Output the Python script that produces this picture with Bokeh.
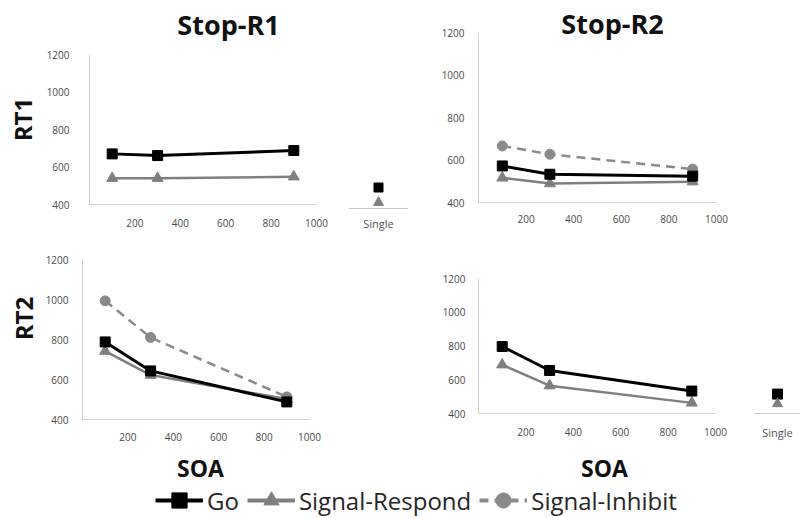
from bokeh.plotting import figure
from bokeh.models import (Range1d, FactorRange, FixedTicker, Label, Legend, LegendItem, Spacer)
from bokeh.layouts import row, column
from bokeh.embed import file_html
from bokeh.resources import INLINE
import math

# ---------------- data ----------------
soa = [100, 300, 900]
y_ticks = [400, 600, 800, 1000, 1200]
x_ticks = [200, 400, 600, 800, 1000]
single_cat = ["Single"]

# Stop-R1, RT1
r1_rt1_go = [670, 661, 688]
r1_rt1_sr = [540, 540, 548]
r1_rt1_single_go = [512]
r1_rt1_single_sr = [432]
# Stop-R2, RT1
r2_rt1_go = [572, 533, 524]
r2_rt1_sr = [516, 489, 498]
r2_rt1_si = [666, 627, 557]
# Stop-R1, RT2
r1_rt2_go = [788, 643, 488]
r1_rt2_sr = [742, 622, 502]
r1_rt2_si = [993, 810, 513]
# Stop-R2, RT2
r2_rt2_go = [797, 655, 533]
r2_rt2_sr = [689, 565, 463]
r2_rt2_single_go = [515]
r2_rt2_single_sr = [458]

FONT = "Open Sans"
GO_C = "#000000"
SR_C = "#7f7f7f"
SI_C = "#8a8a8a"
AXIS_C = "#d0d0d0"
TICK_C = "#4a4a4a"

# layout geometry (page pixels)
ROW1_TOP, ROW1_H = 0, 240
ROW2_TOP, ROW2_H = 240, 210
LEG_TOP, LEG_H = 450, 68


def yrange(row_top, px_1200, px_400):
    """frame top is the row top, frame bottom is the 400 line"""
    upp = 800.0 / (px_400 - px_1200)
    return Range1d(400, 1200 + (px_1200 - row_top) * upp)


def style(p):
    p.outline_line_color = None
    p.grid.visible = False
    p.background_fill_color = "white"
    p.border_fill_color = "white"


def panel(width, height, mbl, mbr, mbb, yr, ystand, xstand):
    p = figure(width=width, height=height, x_range=Range1d(0, 1000), y_range=yr,
               toolbar_location=None, output_backend="svg",
               min_border_left=mbl, min_border_right=mbr, min_border_top=0, min_border_bottom=mbb)
    style(p)
    for ax, ticks, st, bnd in ((p.xaxis[0], x_ticks, xstand, (0, 1000)),
                               (p.yaxis[0], y_ticks, ystand, (400, 1200))):
        ax.ticker = FixedTicker(ticks=ticks)
        ax.bounds = bnd
        ax.axis_line_color = AXIS_C
        ax.axis_line_width = 1
        ax.major_tick_line_color = None
        ax.minor_tick_line_color = None
        ax.major_tick_out = 0
        ax.major_tick_in = 0
        ax.major_label_standoff = st
        ax.major_label_text_font = FONT
        ax.major_label_text_font_size = "10px"
        ax.major_label_text_color = TICK_C
    return p


def single_panel(width, height, mbl, mbr, mbb, yr, xstand):
    p = figure(width=width, height=height, x_range=FactorRange(factors=single_cat),
               y_range=yr, toolbar_location=None, output_backend="svg",
               y_axis_location=None,
               min_border_left=mbl, min_border_right=mbr, min_border_top=0, min_border_bottom=mbb)
    style(p)
    ax = p.xaxis[0]
    ax.axis_line_color = "#c8c8c8"
    ax.major_tick_line_color = None
    ax.minor_tick_line_color = None
    ax.major_tick_out = 0
    ax.major_label_standoff = xstand
    ax.major_label_text_font = FONT
    ax.major_label_text_font_size = "11px"
    ax.major_label_text_color = "#555555"
    return p


def text_panel(width, height):
    p = figure(width=width, height=height, x_range=Range1d(0, 1), y_range=Range1d(0, 1),
               toolbar_location=None, output_backend="svg",
               x_axis_location=None, y_axis_location=None, min_border=0)
    style(p)
    return p


def add_series(p, x, y, kind, lw=None):
    if kind == "go":
        r1 = p.line(x, y, line_color=GO_C, line_width=lw or 3)
        r2 = p.scatter(x, y, marker="square", size=10, fill_color=GO_C, line_color=GO_C)
    elif kind == "sr":
        r1 = p.line(x, y, line_color=SR_C, line_width=lw or 2.5)
        r2 = p.scatter(x, y, marker="triangle", size=11, fill_color=SR_C, line_color=SR_C)
    else:
        r1 = p.line(x, y, line_color=SI_C, line_width=lw or 2.5, line_dash="9 6")
        r2 = p.scatter(x, y, marker="circle", size=10, fill_color=SI_C, line_color=SI_C)
    return [r1, r2]


def big_label(p, text, x, y, size, angle=0.0):
    p.add_layout(Label(x=x, y=y, x_units="screen", y_units="screen", text=text,
                       text_font=FONT, text_font_style="bold", text_font_size=size,
                       text_color="#111111", text_align="center", text_baseline="middle",
                       angle=angle))


def wrap(f):
    return column(f)


# ---------------- top row ----------------
T1 = text_panel(40, ROW1_H)
big_label(T1, "RT1", 22, ROW1_TOP + ROW1_H - 119, "24px", angle=math.pi / 2)

A = panel(300, ROW1_H, 49, 24, ROW1_H - 204, yrange(ROW1_TOP, 54, 204), 20, 14)
add_series(A, soa, r1_rt1_sr, "sr")
add_series(A, soa, r1_rt1_go, "go")
big_label(A, "Stop-R1", 228 - 89, 204 - 24, "27px")

As = single_panel(68, ROW1_H, 8, 0, ROW1_H - 208, yrange(ROW1_TOP, 208 - 150, 208), 7)
As.scatter(single_cat, r1_rt1_single_go, marker="square", size=9, fill_color=GO_C, line_color=GO_C)
As.scatter(single_cat, r1_rt1_single_sr, marker="triangle", size=10, fill_color=SR_C, line_color=SR_C)

B = panel(392, ROW1_H, 70, 84, ROW1_H - 202, yrange(ROW1_TOP, 32, 202), 14, 12)
add_series(B, soa, r2_rt1_si, "si")
add_series(B, soa, r2_rt1_sr, "sr")
add_series(B, soa, r2_rt1_go, "go")
big_label(B, "Stop-R2", 612 - 478, 202 - 23, "27px")

# ---------------- bottom row ----------------
T2 = text_panel(40, ROW2_H)
big_label(T2, "RT2", 23, ROW2_TOP + ROW2_H - 318, "24px", angle=math.pi / 2)

C = panel(300, ROW2_H, 42, 31, ROW2_TOP + ROW2_H - 419, yrange(ROW2_TOP, 259, 419), 14, 13)
add_series(C, soa, r1_rt2_si, "si")
add_series(C, soa, r1_rt2_sr, "sr")
add_series(C, soa, r1_rt2_go, "go")

sp = Spacer(width=68, height=ROW2_H)

D = panel(346, ROW2_H, 70, 39, ROW2_TOP + ROW2_H - 413, yrange(ROW2_TOP, 278, 413), 13, 14)
add_series(D, soa, r2_rt2_sr, "sr")
add_series(D, soa, r2_rt2_go, "go")

Ds = single_panel(46, ROW2_H, 0, 0, ROW2_TOP + ROW2_H - 413, yrange(ROW2_TOP, 278, 413), 11)
Ds.scatter(single_cat, r2_rt2_single_go, marker="square", size=10, fill_color=GO_C, line_color=GO_C)
Ds.scatter(single_cat, r2_rt2_single_sr, marker="triangle", size=10, fill_color=SR_C, line_color=SR_C)

# ---------------- SOA labels + legend ----------------
L = text_panel(800, LEG_H)
LB = LEG_TOP + LEG_H
big_label(L, "SOA", 200, LB - 467, "23px")
big_label(L, "SOA", 604, LB - 467, "23px")

# legend proxies: the Stop-R2 RT1 series, drawn outside the visible (0..1) range
go_r = add_series(L, soa, r2_rt1_go, "go", lw=4)
sr_r = add_series(L, soa, r2_rt1_sr, "sr", lw=4)
si_r = add_series(L, soa, r2_rt1_si, "si", lw=4)

legend = Legend(items=[LegendItem(label="Go", renderers=go_r),
                       LegendItem(label="Signal-Respond", renderers=sr_r),
                       LegendItem(label="Signal-Inhibit", renderers=si_r)],
                orientation="horizontal", location=(155, -1),
                glyph_width=48, glyph_height=38, label_standoff=4, spacing=8,
                padding=0, margin=0, border_line_color=None, background_fill_alpha=0,
                label_text_font=FONT, label_text_font_size="24px", label_text_color="#262626")
L.add_layout(legend)

root = column(row(wrap(T1), wrap(A), wrap(As), wrap(B)),
              row(wrap(T2), wrap(C), sp, wrap(D), wrap(Ds)),
              L)

open("out.html", "w").write(file_html(root, INLINE))
